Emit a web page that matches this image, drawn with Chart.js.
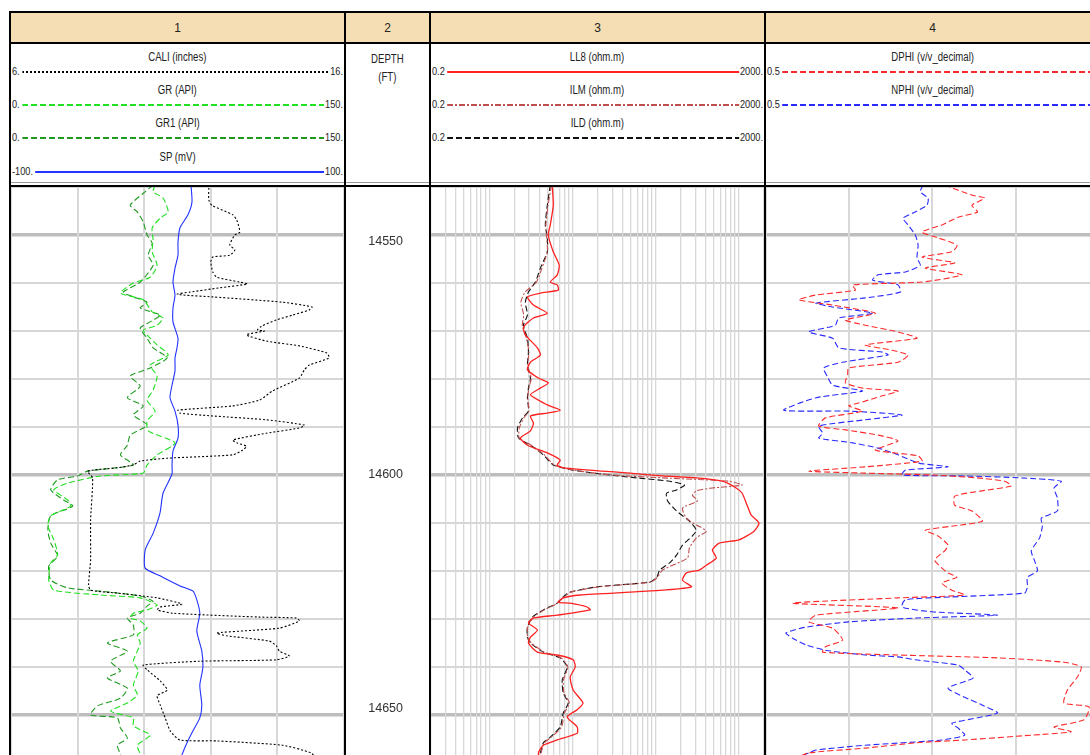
<!DOCTYPE html>
<html>
<head>
<meta charset="utf-8">
<script src="https://cdn.jsdelivr.net/npm/chart.js@4.4.0/dist/chart.umd.min.js"></script>
<style>
html, body { margin: 0; padding: 0; background: #fff; overflow: hidden; width: 1090px; height: 755px; }
#log { position: absolute; left: 0; top: 0; width: 1110px; height: 780px;
       font-family: "Liberation Sans", Arial, sans-serif; color: #222; }
.hdr { position: absolute; top: 13px; height: 29px; background: #f5deb3; font-size: 12px;
       display: flex; align-items: center; justify-content: center; }
.title { position: absolute; height: 14px; line-height: 14px; font-size: 12px; text-align: center; white-space: nowrap; }
.title span { display: inline-block; transform: scaleX(0.8); }
.row { position: absolute; height: 14px; display: flex; align-items: center; font-size: 11.5px;
       white-space: nowrap; transform: scaleX(0.8); transform-origin: 0 0; }
.row .ln { flex: 1; min-width: 0; height: 2px; margin: 1px 1px 0 3px; }
.vl { position: absolute; background: #000; width: 2px; top: 11px; height: 770px; }
.hl { position: absolute; left: 9px; width: 1100px; height: 2px; background: #000; }
canvas { position: absolute; top: 187px; }
</style>
</head>
<body>
<div id="log">
  <div class="hl" style="top:11px"></div>
  <div class="hl" style="top:42px"></div>
  <div class="hl" style="top:182px;height:1px;background:#9a9a9a"></div>
  <div class="hl" style="top:185px"></div>
  <div class="vl" style="left:9px"></div>
  <div class="vl" style="left:344px"></div>
  <div class="vl" style="left:429px"></div>
  <div class="vl" style="left:764px"></div>
  <div class="vl" style="left:1099px"></div>
  <canvas id="track1" width="333" height="576" style="left:11px"></canvas>
  <canvas id="track2" width="83" height="576" style="left:346px"></canvas>
  <canvas id="track3" width="333" height="576" style="left:431px"></canvas>
  <canvas id="track4" width="333" height="576" style="left:766px"></canvas>
</div>
<script>
// Profundidad
const depthRange = [14540, 14660]
const depthGrid = [14540, 14550, 14560, 14570, 14580, 14590, 14600, 14610, 14620, 14630, 14640, 14650, 14660]
const depthLabels = [14550, 14600, 14650]

// Track 1 - CALI (inches)
const caliDepth = [
    14540.2, 14542.7, 14543.8, 14545.8, 14546.9, 14549.4, 14550.0, 14552.1, 14553.1, 14554.2,
    14554.6, 14555.6, 14557.7, 14558.8, 14559.8, 14560.2, 14561.0, 14561.9, 14562.3, 14562.5,
    14562.9, 14564.0, 14565.0, 14565.6, 14566.7, 14567.7, 14569.0, 14569.8, 14570.0, 14570.8,
    14572.1, 14573.1, 14574.6, 14575.6, 14577.1, 14578.1, 14579.8, 14582.5, 14584.4, 14585.6,
    14586.5, 14587.1, 14587.7, 14588.5, 14589.6, 14590.2, 14591.3, 14592.7, 14593.3, 14594.0,
    14594.8, 14595.8, 14596.5, 14597.1, 14597.9, 14598.5, 14599.2, 14600.6, 14609.4, 14617.7,
    14622.9, 14624.0, 14624.6, 14625.6, 14626.9, 14627.5, 14628.1, 14628.8, 14629.6, 14629.8,
    14630.4, 14631.9, 14632.9, 14633.5, 14634.6, 14635.6, 14636.7, 14637.7, 14638.5, 14638.8,
    14639.6, 14640.6, 14642.9, 14644.8, 14646.0, 14647.9, 14650.6, 14653.3, 14655.2, 14655.4,
    14656.3, 14657.9, 14659.4]
const caliValues = [
    11.94, 11.94, 12.03, 12.66, 12.78, 12.87, 12.72, 12.57, 12.72, 12.57,
    12.06, 12.0, 12.06, 12.18, 12.87, 13.1, 12.27, 11.37, 10.99, 11.16,
    12.06, 14.15, 15.04, 14.96, 14.45, 13.97, 13.52, 13.4, 13.61, 13.07,
    13.67, 14.66, 15.49, 15.55, 14.96, 14.81, 14.66, 13.85, 13.46, 12.66,
    11.01, 11.07, 12.06, 13.67, 14.81, 14.66, 13.67, 12.66, 12.78, 13.07,
    12.96, 12.66, 10.69, 9.88, 9.67, 9.19, 8.3, 8.45, 8.39, 8.39,
    8.33, 8.39, 9.19, 10.39, 11.13, 10.48, 10.39, 10.87, 13.46, 14.57,
    14.66, 14.06, 12.18, 12.48, 13.76, 13.97, 14.06, 14.36, 13.97, 11.67,
    9.97, 10.09, 10.48, 10.69, 10.39, 10.48, 10.63, 10.78, 11.07, 12.18,
    14.15, 15.01, 15.2]

// Track 1 - GR (API)
const grDepth = [
    14539.6, 14541.0, 14542.3, 14545.2, 14546.5, 14548.5, 14551.0, 14553.5, 14556.3, 14558.8,
    14560.0, 14562.1, 14563.5, 14566.0, 14567.3, 14568.8, 14569.8, 14570.8, 14572.9, 14575.0,
    14577.1, 14579.4, 14582.3, 14584.4, 14586.7, 14588.8, 14590.8, 14593.3, 14595.8, 14597.9,
    14599.6, 14600.2, 14601.7, 14603.1, 14605.2, 14606.5, 14608.5, 14610.6, 14613.5, 14616.7,
    14618.3, 14621.9, 14624.0, 14625.0, 14625.6, 14627.1, 14628.1, 14628.8, 14629.8, 14630.4,
    14631.9, 14633.3, 14635.0, 14636.7, 14638.8, 14640.8, 14643.8, 14645.8, 14647.5, 14649.2,
    14650.6, 14652.3, 14654.2, 14656.3, 14658.3, 14659.8]
const grValues = [
    64.9, 64.0, 68.5, 70.8, 67.2, 63.6, 64.0, 63.6, 65.8, 62.7,
    55.1, 49.3, 59.6, 63.6, 68.5, 65.8, 59.6, 61.3, 65.8, 70.8,
    62.7, 65.8, 64.0, 61.3, 64.9, 61.3, 61.8, 73.9, 65.8, 61.3,
    59.6, 40.3, 25.5, 19.3, 25.5, 26.9, 17.9, 16.6, 19.3, 21.0,
    17.9, 17.0, 19.3, 40.3, 58.2, 65.8, 61.3, 55.1, 53.7, 58.2,
    61.3, 56.9, 58.2, 56.9, 55.1, 57.3, 55.1, 56.9, 52.4, 44.8,
    55.1, 55.1, 62.7, 56.9, 58.2, 56.0]

// Track 1 - GR1 (API)
const gr1Depth = [
    14539.6, 14541.3, 14543.8, 14545.2, 14547.3, 14550.0, 14551.7, 14554.2, 14556.3, 14559.8,
    14561.9, 14562.9, 14564.0, 14565.2, 14566.7, 14568.1, 14569.4, 14571.5, 14573.5, 14575.6,
    14577.7, 14579.4, 14581.5, 14583.9, 14585.6, 14587.5, 14589.6, 14591.7, 14593.8, 14595.8,
    14597.9, 14599.2, 14600.2, 14601.0, 14603.1, 14605.2, 14606.5, 14608.5, 14611.5, 14614.2,
    14616.9, 14619.0, 14621.9, 14623.5, 14624.2, 14625.2, 14626.3, 14627.3, 14628.8, 14629.8,
    14631.3, 14633.3, 14635.0, 14636.7, 14638.8, 14640.8, 14642.3, 14644.4, 14646.5, 14648.1,
    14650.0, 14650.6, 14652.7, 14654.8, 14656.3, 14658.3, 14659.8]
const gr1Values = [
    64.0, 59.6, 53.7, 56.9, 59.6, 61.3, 63.6, 61.8, 64.0, 58.2,
    50.6, 55.1, 61.3, 58.2, 67.2, 62.7, 58.2, 61.3, 64.0, 70.3,
    62.7, 53.7, 58.2, 52.4, 59.6, 55.1, 61.3, 53.7, 52.4, 49.3,
    55.1, 34.5, 30.0, 21.0, 17.9, 23.7, 27.8, 17.9, 16.6, 17.9,
    21.0, 17.0, 17.9, 25.5, 40.3, 58.2, 64.0, 61.3, 58.2, 52.4,
    55.1, 55.1, 43.4, 52.4, 44.8, 49.3, 43.4, 52.4, 49.3, 39.0,
    35.8, 47.9, 49.3, 52.4, 47.9, 49.3, 48.4]

// Track 1 - SP (mV)
const spDepth = [
    14539.6, 14543.1, 14545.8, 14548.5, 14551.5, 14554.2, 14556.9, 14559.8, 14562.5, 14565.2,
    14568.1, 14571.5, 14573.5, 14575.6, 14578.3, 14581.3, 14583.9, 14586.7, 14589.6, 14592.3,
    14595.0, 14597.9, 14599.8, 14603.8, 14607.9, 14612.1, 14615.6, 14619.4, 14621.0, 14623.1,
    14624.2, 14626.0, 14628.8, 14632.5, 14636.7, 14640.2, 14643.8, 14647.9, 14650.6, 14653.3,
    14655.8, 14658.3, 14659.8]
const spValues = [
    8.1, 8.7, 6.3, 1.5, 0.3, 0.3, -1.5, -2.7, -1.5, -2.7,
    -2.7, 0.3, -0.3, -1.5, -1.5, -3.3, -4.5, -1.5, 0.3, 0.3,
    -2.7, -3.3, -3.3, -8.7, -10.5, -14.6, -19.4, -19.4, -10.5, 1.5,
    9.3, 11.6, 13.4, 11.6, 14.6, 15.2, 13.4, 14.6, 13.4, 9.3,
    5.7, 2.7, 1.5]

// Track 3 - LL8 (ohm.m)
const ll8Depth = [
    14539.6, 14543.8, 14547.9, 14550.0, 14553.5, 14556.3, 14558.3, 14559.8, 14560.4, 14561.5,
    14562.1, 14562.9, 14564.6, 14566.3, 14567.3, 14569.2, 14570.8, 14573.5, 14575.0, 14576.5,
    14578.1, 14579.8, 14580.8, 14581.9, 14583.3, 14585.4, 14586.5, 14587.1, 14587.7, 14589.2,
    14590.8, 14592.3, 14593.8, 14595.4, 14596.9, 14597.9, 14598.5, 14599.6, 14600.2, 14600.6,
    14601.3, 14602.7, 14603.8, 14606.3, 14608.3, 14610.0, 14611.7, 14613.5, 14614.2, 14615.6,
    14617.3, 14618.8, 14619.8, 14620.4, 14621.9, 14623.3, 14624.0, 14624.4, 14625.0, 14625.6,
    14626.5, 14626.7, 14627.5, 14628.1, 14629.2, 14629.8, 14630.8, 14632.3, 14633.8, 14635.0,
    14636.9, 14637.5, 14638.5, 14640.0, 14642.1, 14644.8, 14647.5, 14648.9, 14650.4, 14652.5,
    14653.8, 14655.2, 14656.3, 14657.9, 14659.8]
const ll8Values = [
    5.72, 5.88, 5.42, 5.13, 5.88, 6.94, 6.57, 5.42, 6.57, 6.75,
    4.12, 2.88, 3.40, 4.99, 3.40, 2.58, 2.72, 3.79, 4.12, 3.13,
    2.88, 3.90, 5.13, 4.12, 3.13, 4.99, 7.13, 4.99, 3.13, 3.40,
    3.13, 2.37, 2.88, 4.99, 7.13, 6.57, 7.75, 48.9, 121, 308,
    630, 926, 1093, 1253, 1399, 1743, 1519, 1006, 580, 479,
    534, 406, 335, 234, 210, 269, 121, 48.9, 12.4, 7.75,
    6.75, 9.39, 15.0, 16.3, 6.57, 3.40, 2.96, 3.79, 3.13, 2.96,
    3.79, 6.57, 10.2, 10.8, 9.39, 10.2, 13.4, 11.4, 8.65, 11.4,
    11.4, 6.57, 4.47, 3.90, 4.12]

// Track 3 - ILM (ohm.m)
const ilmDepth = [
    14539.6, 14543.8, 14547.9, 14550.6, 14553.5, 14556.9, 14559.8, 14561.9, 14564.0, 14566.7,
    14568.8, 14571.5, 14574.4, 14577.1, 14579.8, 14581.9, 14583.9, 14586.7, 14588.1, 14590.2,
    14592.3, 14593.8, 14595.8, 14597.9, 14599.0, 14600.0, 14600.6, 14601.3, 14602.1, 14602.7,
    14603.3, 14604.2, 14605.4, 14606.9, 14609.0, 14610.4, 14611.7, 14613.1, 14615.2, 14617.3,
    14619.8, 14621.3, 14622.3, 14623.3, 14624.4, 14625.4, 14626.7, 14628.1, 14629.6, 14631.7,
    14633.8, 14635.0, 14636.9, 14638.1, 14640.0, 14642.7, 14645.4, 14647.5, 14649.6, 14652.5,
    14654.6, 14655.8, 14657.9, 14659.8]
const ilmValues = [
    5.6, 5.1, 4.8, 4.9, 5.0, 4.3, 3.7, 2.7, 2.4, 2.6,
    2.5, 2.8, 3.0, 2.9, 3.2, 3.0, 2.9, 3.0, 2.6, 2.3,
    2.3, 3.2, 4.6, 6.0, 10.5, 30, 121, 764, 1093, 479,
    308, 276, 317, 210, 234, 308, 406, 308, 254, 241,
    121, 105, 88, 21, 9.6, 7.9, 6.6, 4.6, 3.4, 2.9,
    2.9, 3.2, 4.6, 7.3, 8.8, 7.8, 7.9, 9.2, 8.0, 7.4,
    5.6, 4.6, 4.2, 4.0]

// Track 3 - ILD (ohm.m)
const ildDepth = [
    14539.6, 14543.8, 14547.9, 14550.6, 14553.5, 14556.9, 14559.8, 14561.9, 14564.0, 14566.7,
    14568.8, 14571.5, 14574.4, 14577.1, 14579.8, 14581.9, 14583.9, 14586.7, 14588.1, 14590.2,
    14592.3, 14593.8, 14595.8, 14597.9, 14599.0, 14600.0, 14600.6, 14601.3, 14602.1, 14603.1,
    14603.8, 14605.4, 14607.5, 14609.6, 14611.5, 14612.7, 14614.6, 14616.7, 14618.3, 14619.8,
    14621.3, 14622.3, 14623.3, 14624.4, 14625.4, 14626.7, 14628.1, 14629.6, 14631.7, 14633.8,
    14635.0, 14636.9, 14638.1, 14640.0, 14642.7, 14645.4, 14647.5, 14649.6, 14652.5, 14654.6,
    14655.8, 14657.9, 14659.8]
const ildValues = [
    5.42, 4.99, 4.72, 4.99, 4.99, 4.12, 3.59, 2.96, 2.72, 2.88,
    2.58, 2.88, 2.96, 2.88, 3.13, 2.96, 2.88, 2.96, 2.51, 2.19,
    2.25, 3.13, 4.47, 5.88, 10.2, 28.2, 59.2, 147, 222, 178,
    135, 139, 178, 254, 308, 276, 210, 178, 147, 112,
    103, 84.7, 19.7, 9.39, 7.75, 6.57, 4.47, 3.30, 2.88, 2.88,
    3.13, 4.47, 7.13, 8.65, 7.54, 7.75, 8.89, 7.75, 7.13, 5.42,
    4.47, 4.12, 3.90]

// Track 4 - DPHI (v/v_decimal)
const dphiDepth = [
    14539.6, 14541.7, 14542.3, 14543.8, 14545.2, 14546.3, 14547.9, 14549.4, 14550.6, 14552.1,
    14553.5, 14554.6, 14555.8, 14556.9, 14558.3, 14559.8, 14560.4, 14561.5, 14562.5, 14563.5,
    14564.6, 14566.3, 14567.7, 14568.8, 14570.2, 14571.5, 14572.9, 14574.0, 14575.0, 14576.5,
    14577.7, 14579.2, 14580.8, 14581.9, 14582.5, 14583.5, 14585.0, 14585.6, 14586.7, 14588.1,
    14589.8, 14590.6, 14591.7, 14592.9, 14594.8, 14596.0, 14597.1, 14598.3, 14599.2, 14599.6,
    14600.0, 14600.6, 14601.3, 14602.3, 14603.3, 14604.4, 14606.3, 14607.5, 14609.6, 14610.4,
    14611.5, 14612.7, 14614.6, 14615.8, 14617.7, 14619.4, 14620.4, 14621.3, 14622.5, 14624.0,
    14625.0, 14625.6, 14626.7, 14627.7, 14629.2, 14630.6, 14631.9, 14634.4, 14635.8, 14636.9,
    14637.5, 14638.1, 14639.0, 14640.0, 14642.1, 14644.8, 14647.5, 14648.3, 14651.0, 14652.5,
    14653.5, 14654.2, 14655.2, 14655.8, 14656.9, 14657.9, 14659.4]
const dphiValues = [
    0.178, 0.129, 0.106, 0.129, 0.119, 0.154, 0.183, 0.219, 0.190, 0.156,
    0.165, 0.219, 0.160, 0.213, 0.147, 0.219, 0.344, 0.339, 0.410, 0.441,
    0.380, 0.303, 0.357, 0.321, 0.262, 0.228, 0.321, 0.273, 0.244, 0.262,
    0.351, 0.353, 0.357, 0.326, 0.262, 0.290, 0.333, 0.351, 0.326, 0.393,
    0.405, 0.357, 0.298, 0.262, 0.303, 0.226, 0.219, 0.321, 0.423, 0.321,
    0.201, 0.119, 0.070, 0.058, 0.111, 0.160, 0.160, 0.129, 0.110, 0.147,
    0.213, 0.190, 0.172, 0.178, 0.196, 0.183, 0.172, 0.156, 0.183, 0.165,
    0.142, 0.262, 0.452, 0.262, 0.410, 0.423, 0.380, 0.362, 0.393, 0.398,
    0.262, 0.083, -0.037, -0.068, -0.061, -0.043, -0.037, -0.082, -0.073, -0.019,
    -0.050, 0.022, 0.142, 0.231, 0.321, 0.423, 0.455]

// Track 4 - NPHI (v/v_decimal)
const nphiDepth = [
    14539.6, 14541.0, 14542.3, 14543.8, 14545.2, 14546.5, 14547.9, 14550.0, 14552.1, 14554.8,
    14556.3, 14557.7, 14558.3, 14559.4, 14560.4, 14561.9, 14563.1, 14564.2, 14565.0, 14566.3,
    14567.3, 14568.8, 14570.2, 14571.5, 14573.5, 14574.4, 14575.0, 14576.5, 14577.7, 14579.6,
    14581.3, 14582.5, 14583.9, 14586.5, 14586.7, 14587.5, 14588.5, 14589.8, 14591.3, 14592.3,
    14593.3, 14594.4, 14595.8, 14597.5, 14598.3, 14599.0, 14600.0, 14600.2, 14600.6, 14601.3,
    14602.7, 14604.8, 14607.5, 14609.0, 14610.6, 14613.1, 14615.8, 14617.9, 14620.0, 14621.3,
    14623.3, 14624.6, 14625.4, 14626.0, 14627.5, 14628.5, 14629.2, 14629.8, 14630.6, 14631.7,
    14632.9, 14634.0, 14635.4, 14636.5, 14637.5, 14637.9, 14638.5, 14639.6, 14640.6, 14642.3,
    14644.4, 14646.3, 14647.9, 14649.6, 14651.7, 14652.7, 14654.2, 14655.2, 14656.3, 14657.3,
    14657.9, 14659.4]
const nphiValues = [
    0.217, 0.222, 0.208, 0.210, 0.231, 0.253, 0.244, 0.231, 0.226, 0.228,
    0.222, 0.249, 0.298, 0.308, 0.262, 0.258, 0.321, 0.410, 0.380, 0.308,
    0.369, 0.375, 0.423, 0.380, 0.369, 0.290, 0.280, 0.362, 0.396, 0.389,
    0.380, 0.326, 0.410, 0.468, 0.351, 0.255, 0.321, 0.405, 0.398, 0.405,
    0.344, 0.298, 0.262, 0.226, 0.172, 0.249, 0.255, 0.142, 0.040, -0.032,
    -0.019, -0.025, -0.025, 0.004, 0.002, 0.007, 0.022, 0.016, 0.011, 0.029,
    0.029, 0.034, 0.165, 0.249, 0.255, 0.201, 0.083, 0.231, 0.351, 0.428,
    0.464, 0.452, 0.428, 0.393, 0.321, 0.262, 0.231, 0.154, 0.142, 0.127,
    0.172, 0.142, 0.111, 0.083, 0.165, 0.154, 0.142, 0.183, 0.321, 0.410,
    0.423, 0.455]

// Rejilla logaritmica del track 3
const logGrid = [0.2, 0.3, 0.4, 0.5, 0.6, 0.7, 0.8, 0.9, 1, 2, 3, 4, 5, 6, 7, 8, 9, 10,
    20, 30, 40, 50, 60, 70, 80, 90, 100, 200, 300, 400, 500, 600, 700, 800, 900, 1000, 2000]
const porGrid = [-0.1, 0.05, 0.2, 0.35, 0.5]
const grGrid = [0, 30, 60, 90, 120, 150]

Chart.defaults.font.family = '"Liberation Sans", Arial, sans-serif'

// Curvas por track (estilos)
const track1Curves = [
    { label: 'CALI (inches)', depth: caliDepth, values: caliValues, axis: 'xCali', lo: '6.', hi: '16.', color: '#000000', dash: [2, 2] },
    { label: 'GR (API)', depth: grDepth, values: grValues, axis: 'xGr', lo: '0.', hi: '150.', color: '#22e022', dash: [6, 3] },
    { label: 'GR1 (API)', depth: gr1Depth, values: gr1Values, axis: 'xGr1', lo: '0.', hi: '150.', color: '#1f9a1f', dash: [6, 3] },
    { label: 'SP (mV)', depth: spDepth, values: spValues, axis: 'xSp', lo: '-100.', hi: '100.', color: '#2233ff', dash: [] }
]
const track3Curves = [
    { label: 'LL8 (ohm.m)', depth: ll8Depth, values: ll8Values, axis: 'xRes', lo: '0.2', hi: '2000.', color: '#ff2020', dash: [], width: 1.3 },
    { label: 'ILM (ohm.m)', depth: ilmDepth, values: ilmValues, axis: 'xRes', lo: '0.2', hi: '2000.', color: '#c05050', dash: [6, 2, 2, 2] },
    { label: 'ILD (ohm.m)', depth: ildDepth, values: ildValues, axis: 'xRes', lo: '0.2', hi: '2000.', color: '#111111', dash: [6, 3] }
]
const track4Curves = [
    { label: 'DPHI (v/v_decimal)', depth: dphiDepth, values: dphiValues, axis: 'xPor', lo: '0.5', hi: '', color: '#ff2a2a', dash: [6, 3] },
    { label: 'NPHI (v/v_decimal)', depth: nphiDepth, values: nphiValues, axis: 'xPor', lo: '0.5', hi: '', color: '#2a2aff', dash: [6, 3] }
]

const tracks = [
    { num: '1', left: 11, width: 333, curves: track1Curves },
    { num: '2', left: 346, width: 83, curves: [] },
    { num: '3', left: 431, width: 333, curves: track3Curves },
    { num: '4', left: 766, width: 333, curves: track4Curves }
]
const titleRows = [57, 90, 123, 157]
const textScale = 0.8

// Patron de trazo para la muestra de la leyenda
const dashBackground = (color, dash) => {
    if (!dash.length) return color
    let pos = 0
    const stops = dash.map((len, i) => {
        const c = i % 2 === 0 ? color : 'transparent'
        const s = c + ' ' + pos + 'px ' + (pos + len) + 'px'
        pos += len
        return s
    })
    return 'repeating-linear-gradient(to right, ' + stops.join(', ') + ')'
}

// Cabecera y leyendas
const wrap = document.getElementById('log')
tracks.forEach(track => {
    const h = document.createElement('div')
    h.className = 'hdr'
    h.style.left = track.left + 'px'
    h.style.width = track.width + 'px'
    h.textContent = track.num
    wrap.appendChild(h)

    track.curves.forEach((c, i) => {
        const t = document.createElement('div')
        t.className = 'title'
        t.style.left = track.left + 'px'
        t.style.width = track.width + 'px'
        t.style.top = (titleRows[i] - 7) + 'px'
        t.innerHTML = '<span>' + c.label + '</span>'
        wrap.appendChild(t)

        const r = document.createElement('div')
        r.className = 'row'
        r.style.left = (track.left + 1) + 'px'
        r.style.width = ((track.width - 2) / textScale) + 'px'
        r.style.top = (titleRows[i] + 7) + 'px'
        const lo = document.createElement('span')
        lo.textContent = c.lo
        const ln = document.createElement('div')
        ln.className = 'ln'
        ln.style.background = dashBackground(c.color, c.dash.map(v => v / textScale))
        const hi = document.createElement('span')
        hi.textContent = c.hi
        r.append(lo, ln, hi)
        wrap.appendChild(r)
    })
})
const dt = document.createElement('div')
dt.className = 'title'
dt.style.left = '346px'
dt.style.width = '83px'
dt.style.top = '50px'
dt.style.lineHeight = '18px'
dt.style.height = '36px'
dt.innerHTML = '<span>DEPTH<br>(FT)</span>'
wrap.appendChild(dt)

// Eje de profundidad con rejilla
const depthAxis = () => ({
    type: 'linear',
    reverse: true,
    min: depthRange[0],
    max: depthRange[1],
    afterBuildTicks: axis => { axis.ticks = depthGrid.map(v => ({ value: v })) },
    ticks: { display: false },
    grid: {
        drawTicks: false,
        color: ctx => (ctx.tick && ctx.tick.value % 50 === 0) ? '#bdbdbd' : '#d6d6d6',
        lineWidth: ctx => (ctx.tick && ctx.tick.value % 50 === 0) ? 3.5 : 2
    },
    border: { display: false }
})

const gridX = (type, min, max, values, width, reverse) => ({
    type, axis: 'x', position: 'bottom', min, max, reverse: !!reverse,
    afterBuildTicks: axis => { axis.ticks = values.map(v => ({ value: v })) },
    ticks: { display: false },
    grid: { drawTicks: false, color: '#d8d8d8', lineWidth: width },
    border: { display: false }
})

const hiddenX = (min, max) => ({ type: 'linear', axis: 'x', min, max, display: false })

const toDatasets = curves => curves.map(c => ({
    label: c.label,
    data: c.depth.map((d, i) => ({ x: c.values[i], y: d })),
    xAxisID: c.axis,
    showLine: true,
    pointRadius: 0,
    borderColor: c.color,
    borderWidth: c.width || 1.1,
    borderDash: c.dash,
    tension: 0.2,
    fill: false
}))

const baseOptions = scales => ({
    responsive: false,
    animation: false,
    layout: { padding: 0 },
    plugins: { legend: { display: false }, tooltip: { enabled: false } },
    scales
})

// Track 1
new Chart(document.getElementById('track1'), {
    type: 'scatter',
    data: { datasets: toDatasets(track1Curves) },
    options: baseOptions({
        y: depthAxis(),
        xGr: gridX('linear', 0, 150, grGrid, 2),
        xGr1: hiddenX(0, 150),
        xCali: hiddenX(6, 16),
        xSp: hiddenX(-100, 100)
    })
})

// Track 2 (profundidad)
new Chart(document.getElementById('track2'), {
    type: 'scatter',
    data: { datasets: [] },
    options: baseOptions({
        x: { type: 'linear', display: false, min: 0, max: 1 },
        y: {
            type: 'linear',
            position: 'left',
            reverse: true,
            min: depthRange[0],
            max: depthRange[1],
            afterBuildTicks: axis => { axis.ticks = depthLabels.map(v => ({ value: v })) },
            afterFit: axis => { axis.width = 57 },
            ticks: { font: { size: 12.5 }, color: '#333', padding: 0, crossAlign: 'near', callback: v => String(v) },
            grid: { display: false, drawTicks: false },
            border: { display: false }
        }
    })
})

// Track 3
new Chart(document.getElementById('track3'), {
    type: 'scatter',
    data: { datasets: toDatasets(track3Curves) },
    options: baseOptions({
        y: depthAxis(),
        xRes: gridX('logarithmic', 0.2, 2000, logGrid, 1.3)
    })
})

// Track 4
new Chart(document.getElementById('track4'), {
    type: 'scatter',
    data: { datasets: toDatasets(track4Curves) },
    options: baseOptions({
        y: depthAxis(),
        xPor: gridX('linear', -0.1, 0.5, porGrid, 2, true)
    })
})
</script>
</body>
</html>
